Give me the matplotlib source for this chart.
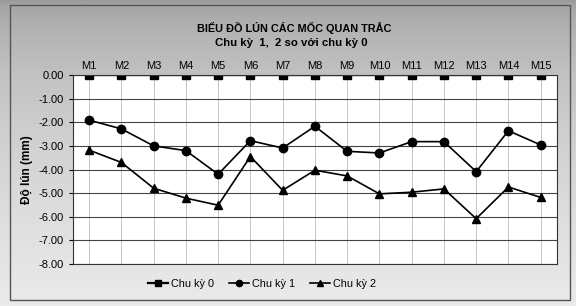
import matplotlib
matplotlib.use("Agg")
import matplotlib.pyplot as plt
import numpy as np

categories = ["M1", "M2", "M3", "M4", "M5", "M6", "M7", "M8", "M9", "M10", "M11", "M12", "M13", "M14", "M15"]
chu_ky_0 = [0.0] * 15
chu_ky_1 = [-1.91, -2.28, -3.00, -3.20, -4.20, -2.78, -3.09, -2.17, -3.23, -3.30, -2.82, -2.82, -4.09, -2.36, -2.96]
chu_ky_2 = [-3.18, -3.70, -4.79, -5.21, -5.51, -3.45, -4.88, -4.03, -4.27, -5.03, -4.96, -4.82, -6.08, -4.74, -5.18]
y_ticks = [0, -1, -2, -3, -4, -5, -6, -7, -8]

plt.rcParams['font.family'] = ['Liberation Sans', 'DejaVu Sans']

fig = plt.figure(figsize=(5.76, 3.06), dpi=100)
# background gradient (scanned look): darker gray at the top, lighter at the bottom
bg = fig.add_axes([0, 0, 1, 1], zorder=-10)
t = np.sqrt(np.linspace(0, 1, 200))
shade = 0.60 + 0.32 * t
img = np.repeat(shade[:, None, None], 3, axis=2)
bg.imshow(img, aspect='auto', extent=[0, 1, 0, 1], origin='upper', interpolation='bilinear')
bg.set_xlim(0, 1); bg.set_ylim(0, 1)
bg.add_patch(plt.Rectangle((0.018, 0.02), 0.972, 0.965, fill=False, edgecolor='#555555', lw=1))
bg.axis('off')

ax = fig.add_axes([0.1267, 0.137, 0.840, 0.618])
ax.set_facecolor('white')
x = np.arange(len(categories))
ax.plot(x, chu_ky_0, color='black', lw=1.6, marker='s', ms=5.5, label='Chu kỳ 0')
ax.plot(x, chu_ky_1, color='black', lw=1.2, marker='o', ms=6, label='Chu kỳ 1')
ax.plot(x, chu_ky_2, color='black', lw=1.2, marker='^', ms=6, label='Chu kỳ 2')

ax.set_xlim(-0.5, len(categories) - 0.5)
ax.set_ylim(-8, 0)
ax.set_yticks(y_ticks)
ax.set_yticklabels([f"{v:.2f}" for v in y_ticks], fontsize=8)
ax.set_xticks(x)
ax.set_xticklabels(categories, fontsize=8)
ax.xaxis.tick_top()
ax.tick_params(axis='x', length=0, pad=3)
ax.tick_params(axis='y', length=3)
ax.grid(axis='y', color='#444444', lw=0.8)
ax.grid(axis='x', color='#bbbbbb', lw=0.6)
ax.set_axisbelow(True)
for s in ax.spines.values():
    s.set_color('#333333')
    s.set_linewidth(0.8)

ax.set_ylabel('Độ lún (mm)', fontsize=8.5, fontweight='bold', labelpad=4)
fig.text(0.51, 0.908, 'BIỂU ĐỒ LÚN CÁC MỐC QUAN TRẮC', ha='center', va='center', fontsize=7.8, fontweight='bold')
fig.text(0.505, 0.859, 'Chu kỳ  1,  2 so với chu kỳ 0', ha='center', va='center', fontsize=8.2, fontweight='bold')

fig.legend(loc='center', bbox_to_anchor=(0.455, 0.072), ncol=3, frameon=False, fontsize=7.8,
           handlelength=1.8, columnspacing=1.4, handletextpad=0.3, markerscale=0.75)

fig.savefig('out.png', dpi=100)
